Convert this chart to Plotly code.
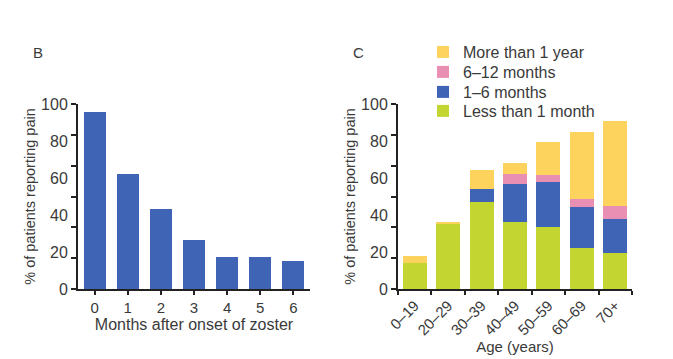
import plotly.graph_objects as go

# Panel B data
months = ["0", "1", "2", "3", "4", "5", "6"]
pct_pain_months = [95.5, 62, 43, 26.5, 17.5, 17.5, 15]

# Panel C data
ages = ["0–19", "20–29", "30–39", "40–49", "50–59", "60–69", "70+"]
less_1_month = [14, 35.3, 46.8, 36, 33.5, 22.1, 19.4]
m1_6 = [0, 0, 7.3, 20.7, 24.6, 22.0, 18.4]
m6_12 = [0, 0, 0, 5.5, 3.6, 4.3, 7.2]
more_1_year = [4, 0.8, 10.3, 6.1, 17.6, 36.7, 46]

ytick_vals = [0, 20, 40, 60, 80, 100]
ytick_text = ["0", "20", "40", "60", "80", "100"]

BLUE = "#3f63b5"
GREEN = "#c3d530"
YELLOW = "#fdd35e"
PINK = "#e98fb4"
TXT = "#3a3a3a"
AX = "#222222"
FONT = "Liberation Sans"

# page has an 8px body margin; compensate
OFF = 8
W, H = 673 - OFF, 359 - OFF


def fx(px):
    return (px - OFF) / W


def fy(py):
    return (H - (py - OFF)) / H


fig = go.Figure()

fig.add_trace(go.Bar(x=months, y=pct_pain_months, marker=dict(color=BLUE, line=dict(width=0)),
                     width=0.66, xaxis="x", yaxis="y", showlegend=False))

fig.add_trace(go.Bar(x=ages, y=less_1_month, name="Less than 1 month", marker=dict(color=GREEN, line=dict(width=0)),
                     width=0.72, xaxis="x2", yaxis="y2", legend="legend4"))
fig.add_trace(go.Bar(x=ages, y=m1_6, name="1–6 months", marker=dict(color=BLUE, line=dict(width=0)),
                     width=0.72, xaxis="x2", yaxis="y2", legend="legend3"))
fig.add_trace(go.Bar(x=ages, y=m6_12, name="6–12 months", marker=dict(color=PINK, line=dict(width=0)),
                     width=0.72, xaxis="x2", yaxis="y2", legend="legend2"))
fig.add_trace(go.Bar(x=ages, y=more_1_year, name="More than 1 year", marker=dict(color=YELLOW, line=dict(width=0)),
                     width=0.72, xaxis="x2", yaxis="y2", legend="legend"))


def yax(domain, anchor):
    return dict(domain=domain, anchor=anchor, range=[0, 100], tickmode="array", automargin=False,
                tickvals=ytick_vals, ticktext=ytick_text, ticks="outside", ticklen=5,
                tickcolor="rgba(0,0,0,0)", showgrid=False, zeroline=False,
                showline=True, linecolor=AX, linewidth=2,
                tickfont=dict(size=16, color=TXT, family=FONT),
                minor=dict(tick0=0, dtick=100 / 6, ticks="outside", ticklen=5,
                           tickcolor=AX, tickwidth=1.5, showgrid=False),
                title=dict(text="% of patients reporting pain", font=dict(size=14.5, color=TXT, family=FONT),
                           standoff=2))


def xax(domain, anchor, title, angle, size, cats, tsize):
    return dict(domain=domain, anchor=anchor, range=[-0.5, 6.5], tickson="boundaries", automargin=False,
                tickmode="array", tickvals=cats, ticktext=cats,
                ticks="outside", ticklen=4, tickwidth=1.5, tickcolor=AX, showgrid=False,
                showline=True, linecolor=AX, linewidth=2, tickangle=angle,
                tickfont=dict(size=size, color=TXT, family=FONT),
                title=dict(text=title, font=dict(size=tsize, color=TXT, family=FONT), standoff=4))


def leg(py):
    return dict(x=fx(423), y=fy(py), xanchor="left", yanchor="middle",
                bgcolor="rgba(0,0,0,0)", font=dict(size=16, color=TXT, family=FONT),
                itemwidth=30, borderwidth=0)


fig.update_layout(
    template="none",
    width=W, height=H, margin=dict(l=0, r=0, t=0, b=0, pad=0),
    paper_bgcolor="white", plot_bgcolor="white",
    barmode="stack", bargap=0,
    font=dict(family=FONT, color=TXT),
    xaxis=xax([fx(78), fx(310)], "y", "Months after onset of zoster", 0, 15, months, 16),
    yaxis=yax([fy(289), fy(104)], "x"),
    xaxis2=xax([fx(398), fx(632)], "y2", "Age (years)", -45, 15, ages, 15),
    yaxis2=yax([fy(289), fy(104)], "x2"),
    legend=leg(52),
    legend2=leg(72),
    legend3=leg(92),
    legend4=leg(111),
    annotations=[
        dict(text="B", x=fx(38), y=fy(53), xref="paper", yref="paper", showarrow=False,
             font=dict(size=15, color=TXT, family=FONT), xanchor="center", yanchor="middle"),
        dict(text="C", x=fx(358), y=fy(53), xref="paper", yref="paper", showarrow=False,
             font=dict(size=15, color=TXT, family=FONT), xanchor="center", yanchor="middle"),
    ],
)

fig.write_html("out.html")
